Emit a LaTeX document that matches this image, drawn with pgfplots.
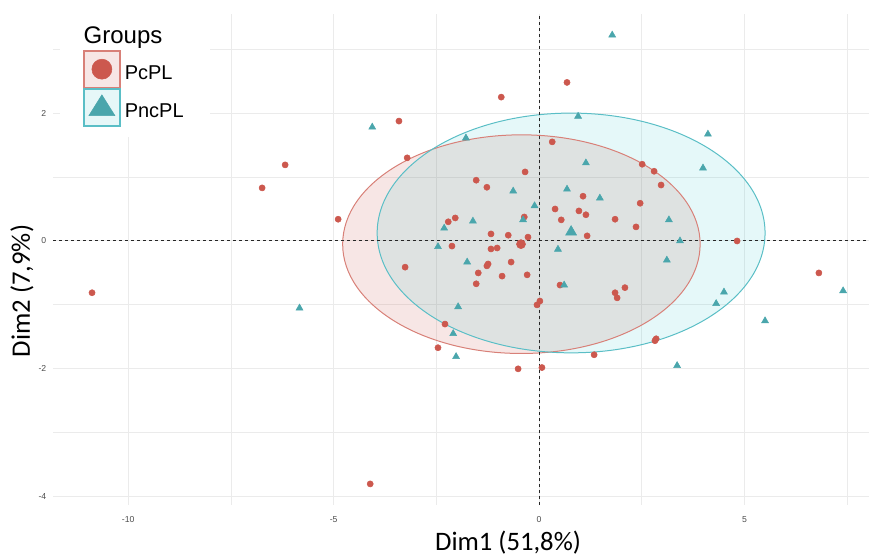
\documentclass[border=0pt]{standalone}
\usepackage{fontspec}
\setmainfont{Liberation Sans}
\newfontfamily\carlito{Carlito}
\usepackage{pgfplots}
\pgfplotsset{compat=1.18}
\definecolor{ptred}{RGB}{204,88,78}
\definecolor{ptteal}{RGB}{74,166,172}
\definecolor{elred}{RGB}{216,128,120}
\definecolor{elteal}{RGB}{90,190,198}
\definecolor{fillred}{RGB}{204,90,79}
\definecolor{fillteal}{RGB}{0,191,196}
\definecolor{gridc}{RGB}{235,235,235}
\definecolor{tickc}{RGB}{77,77,77}
\definecolor{keyredfill}{RGB}{247,230,229}
\definecolor{keytealfill}{RGB}{230,247,248}
\begin{document}
\begin{tikzpicture}
\useasboundingbox (0,0) rectangle (651.75pt,418.5pt);
\begin{axis}[
  at={(39.75pt,39.75pt)}, anchor=south west,
  scale only axis, width=612pt, height=368.25pt,
  xmin=-11.83, xmax=8.03, ymin=-4.13, ymax=3.55,
  xtick={-10,-5,0,5}, ytick={-4,-2,0,2},
  minor xtick={-7.5,-2.5,2.5,7.5}, minor ytick={-3,-1,1,3},
  grid=both,
  major grid style={draw=gridc, line width=0.8pt},
  minor grid style={draw=gridc, line width=0.6pt},
  axis line style={draw=none},
  major tick length=0pt, minor tick length=0pt,
  tick style={draw=none},
  ticklabel style={font=\fontsize{6.5}{7}\selectfont, text=tickc},
  /pgf/number format/assume math mode=true,
  xticklabel style={yshift=-5pt},
  yticklabel style={xshift=-1.5pt},
  xlabel={Dim1 (51,8\%)}, ylabel={Dim2 (7,9\%)},
  label style={font=\carlito\fontsize{20}{24}\selectfont},
  xlabel style={at={(axis description cs:0.5576,-0.0774)}, anchor=center},
  ylabel style={at={(axis description cs:-0.038,0.4358)}, anchor=center},
  legend style={at={(axis description cs:0.0368,0.9267)}, anchor=north west,
    draw=none, fill=none, inner sep=0pt, outer sep=0pt,
    row sep=0pt, column sep=3pt,
    font=\fontsize{15}{18}\selectfont, nodes={inner sep=0pt}},
  legend cell align=left,
]
\addlegendimage{legend image code/.code={
  \draw[draw=elred, fill=keyredfill, line width=1.3pt] (0pt,-10.8pt) rectangle (27pt,16.7pt);
  \fill[ptred] (13.5pt,2.95pt) circle (7.5pt);}}
\addlegendentry{PcPL}
\addlegendimage{legend image code/.code={
  \draw[draw=elteal, fill=keytealfill, line width=1.3pt] (0pt,-10.8pt) rectangle (27pt,16.7pt);
  \fill[ptteal] (3.8pt,-3pt) -- (23.2pt,-3pt) -- (13.5pt,12.5pt) -- cycle;}}
\addlegendentry{PncPL}

\fill[white] (axis cs:-11.66,1.625) rectangle (axis cs:-8.0,3.55);
\node[anchor=base west, font=\fontsize{18}{20}\selectfont, inner sep=0pt] at (axis cs:-11.09,3.094) {Groups};

\fill[fillred, fill opacity=0.15] (axis cs:-0.43,-0.05) ellipse [x radius=4.35, y radius=1.71];
\fill[fillteal, fill opacity=0.10] (axis cs:0.78,0.125) ellipse [x radius=4.72, y radius=1.875];
\draw[elred, line width=0.75pt] (axis cs:-0.43,-0.05) ellipse [x radius=4.35, y radius=1.71];
\draw[elteal, line width=0.75pt] (axis cs:0.78,0.125) ellipse [x radius=4.72, y radius=1.875];

\addplot[forget plot, black!85, line width=0.8pt, dash pattern=on 2.5pt off 2pt] coordinates {(0,-4.13) (0,3.55)};
\addplot[forget plot, black!85, line width=0.8pt, dash pattern=on 2.5pt off 2pt] coordinates {(-11.83,0) (8.03,0)};

\addplot[forget plot, only marks, mark=*, mark size=2.3pt, color=ptred] coordinates {
(-10.88,-0.81) (-6.74,0.83) (-6.18,1.19) (-3.41,1.875) (-0.92,2.25) (0.68,2.48)
(-3.21,1.30) (0.32,1.55) (-0.34,1.08) (-1.53,0.95) (-1.27,0.84) (2.51,1.20)
(2.80,1.09) (2.97,0.875) (1.07,0.70) (-4.89,0.34) (-3.26,-0.41) (-2.21,0.30)
(-2.04,0.36) (-2.12,-0.08) (-1.17,0.11) (-0.75,0.09) (-1.17,-0.125) (-1.02,-0.11)
(-0.36,0.375) (-0.27,0.06) (-0.68,-0.33) (-1.24,-0.36) (-1.27,-0.39) (-1.48,-0.5)
(-0.90,-0.55) (-0.29,-0.53) (-1.53,-0.67) (0.39,0.50) (0.54,0.33) (0.97,0.47)
(0.51,-0.69) (0.02,-0.94) (-0.05,-1.0) (-2.29,-1.30) (-2.46,-1.67) (-0.51,-2.0)
(0.07,-1.98) (2.46,0.59) (1.14,0.41) (1.85,0.34) (2.36,0.22) (1.17,0.08)
(4.82,0.0) (6.81,-0.5) (2.09,-0.73) (1.85,-0.81) (1.90,-0.89) (2.85,-1.53)
(2.82,-1.56) (1.34,-1.78) (-4.11,-3.80)};
\addplot[forget plot, only marks, mark=*, mark size=3.4pt, color=ptred] coordinates {(-0.44,-0.05)};

\addplot[forget plot, only marks, mark=triangle*, mark size=3pt, color=ptteal] coordinates {
(-4.06,1.78) (-1.78,1.61) (-0.63,0.78) (0.68,0.81) (0.95,1.95) (1.78,3.22)
(4.11,1.67) (3.99,1.14) (1.14,1.22) (1.48,0.67) (-5.83,-1.05) (-0.11,0.55)
(-0.39,0.33) (-1.61,0.31) (-2.31,0.2) (-2.46,-0.09) (-1.75,-0.33) (0.46,-0.13)
(0.61,-0.69) (-1.97,-1.03) (-2.09,-1.45) (-2.02,-1.81) (3.16,0.33) (3.43,0.0)
(3.11,-0.30) (4.50,-0.80) (4.31,-0.98) (5.50,-1.25) (7.40,-0.78) (3.36,-1.95)};
\addplot[forget plot, only marks, mark=triangle*, mark size=4.8pt, color=ptteal] coordinates {(0.78,0.14)};
\end{axis}
\end{tikzpicture}
\end{document}
